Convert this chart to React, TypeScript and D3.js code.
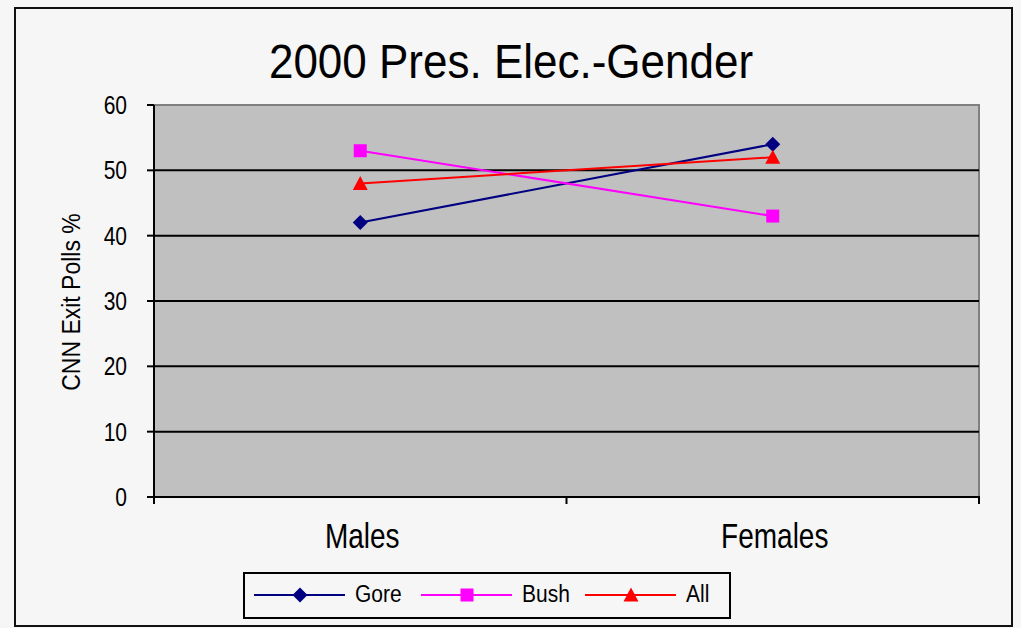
import React from "react";
import * as d3 from "d3";

const categories = ["Males", "Females"];
const seriesNames = ["Gore", "Bush", "All"];
const goreValues = [42, 54];
const bushValues = [53, 43];
const allValues = [48, 52];
const yTicks = [0, 10, 20, 30, 40, 50, 60];
const colors = ["#000080", "#ff00ff", "#ff0000"];
const markers = ["diamond", "square", "triangle"];

const FONT = "'Liberation Sans', Arial, sans-serif";

function Marker({ type, x, y, color }: { type: string; x: number; y: number; color: string }) {
  if (type === "diamond") {
    const s = 7.5;
    return <path d={`M${x},${y - s}L${x + s},${y}L${x},${y + s}L${x - s},${y}Z`} fill={color} />;
  }
  if (type === "square") {
    const s = 6.5;
    return <rect x={x - s} y={y - s} width={2 * s} height={2 * s} fill={color} />;
  }
  const s = 7.5;
  return <path d={`M${x},${y - s}L${x + s},${y + s - 1}L${x - s},${y + s - 1}Z`} fill={color} />;
}

function T({
  x,
  y,
  size,
  anchor = "start",
  sy = 1.2,
  children,
}: {
  x: number;
  y: number;
  size: number;
  anchor?: string;
  sy?: number;
  children: React.ReactNode;
}) {
  return (
    <text
      transform={`translate(${x},${y}) scale(1,${sy})`}
      textAnchor={anchor}
      fontFamily={FONT}
      fontSize={size}
      fill="#000"
    >
      {children}
    </text>
  );
}

export default function App() {
  const W = 1021;
  const H = 628;
  const x = d3.scaleBand<string>().domain(categories).range([154, 979]).padding(0);
  const y = d3.scaleLinear().domain([0, 60]).range([497, 105]);
  const cx = (c: string) => (x(c) as number) + x.bandwidth() / 2;
  const data = [goreValues, bushValues, allValues];
  const line = d3
    .line<number>()
    .x((_, i) => cx(categories[i]))
    .y((d) => y(d));
  const xTickPos = [...categories.map((c) => x(c) as number), 979];
  const legendItems = [
    { x0: 254, name: seriesNames[0] },
    { x0: 421, name: seriesNames[1] },
    { x0: 585, name: seriesNames[2] },
  ];
  return (
    <div style={{ position: "absolute", left: 0, top: 0 }}>
      <svg width={W} height={H} style={{ display: "block", background: "#f6f6f6" }}>
        <rect x={0} y={0} width={W} height={H} fill="#f6f6f6" />
        <rect x={15} y={8} width={997} height={618} fill="none" stroke="#111" strokeWidth={2} />
        <T x={511} y={78} size={44} anchor="middle" sy={1.08}>
          2000 Pres. Elec.-Gender
        </T>
        <rect x={154} y={105} width={825} height={392} fill="#c0c0c0" stroke="#808080" strokeWidth={2} />
        {yTicks.filter((t) => t > 0 && t < 60).map((t) => (
          <line key={t} x1={154} x2={979} y1={y(t)} y2={y(t)} stroke="#000" strokeWidth={2} />
        ))}
        <line x1={154} x2={154} y1={105} y2={503} stroke="#000" strokeWidth={2} />
        <line x1={154} x2={980} y1={497} y2={497} stroke="#000" strokeWidth={2} />
        {yTicks.map((t) => (
          <g key={t}>
            <line x1={147} x2={154} y1={y(t)} y2={y(t)} stroke="#000" strokeWidth={2} />
            <T x={127} y={y(t) + 9} size={21} anchor="end" sy={1.25}>
              {t}
            </T>
          </g>
        ))}
        {xTickPos.map((p, i) => (
          <line key={i} x1={p} x2={p} y1={497} y2={504} stroke="#000" strokeWidth={2} />
        ))}
        {categories.map((c) => (
          <T key={c} x={cx(c) + 2} y={548} size={28} anchor="middle" sy={1.22}>
            {c}
          </T>
        ))}
        <text
          transform={`translate(80,302) rotate(-90) scale(1,1.15)`}
          textAnchor="middle"
          fontFamily={FONT}
          fontSize={23}
          fill="#000"
        >
          CNN Exit Polls %
        </text>
        {data.map((vals, si) => (
          <g key={si}>
            <path d={line(vals) as string} fill="none" stroke={colors[si]} strokeWidth={2} />
            {vals.map((v, i) => (
              <Marker key={i} type={markers[si]} x={cx(categories[i])} y={y(v)} color={colors[si]} />
            ))}
          </g>
        ))}
        <rect x={244} y={573} width={486} height={45} fill="#f6f6f6" stroke="#000" strokeWidth={2} />
        {legendItems.map((it, i) => (
          <g key={it.name}>
            <line x1={it.x0} x2={it.x0 + 91} y1={595} y2={595} stroke={colors[i]} strokeWidth={2} />
            <Marker type={markers[i]} x={it.x0 + 46} y={595} color={colors[i]} />
            <T x={it.x0 + 101} y={602} size={21} sy={1.15}>
              {it.name}
            </T>
          </g>
        ))}
      </svg>
    </div>
  );
}
